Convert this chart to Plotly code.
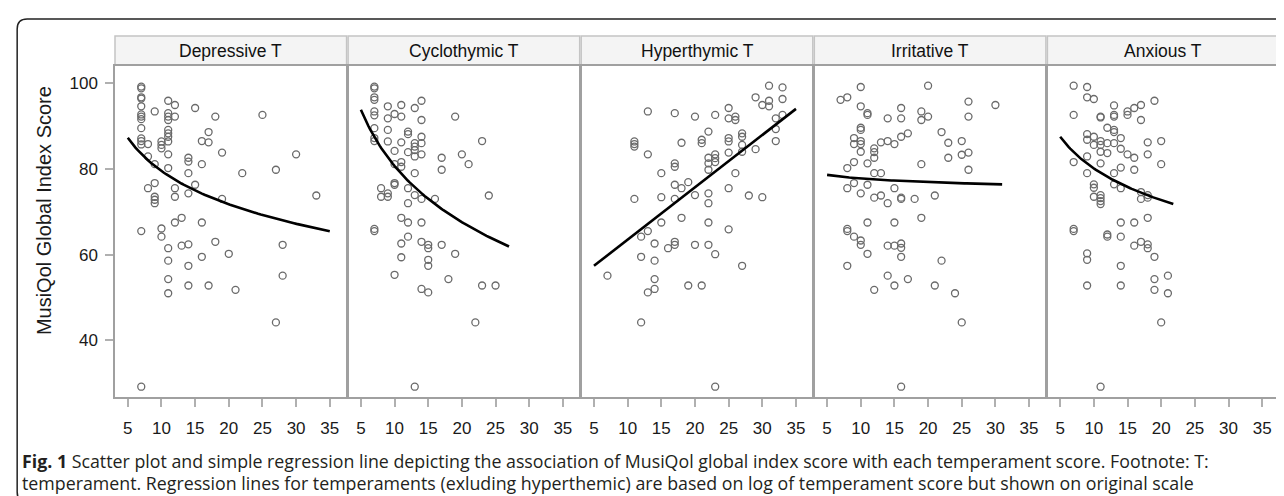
import numpy as np
import plotly.graph_objects as go

# ---------------- data ----------------
panel_titles = ["Depressive T", "Cyclothymic T", "Hyperthymic T", "Irritative T", "Anxious T"]

dep_x = [7,7,7,7,7,7,7,7,7,7,7,7,7,7,
         8,8,8, 9,9,9,9,9,9, 10,10,10,10,10,
         11,11,11,11,11,11,11,11,11,11,11,11,11,11,
         12,12,12,12,12, 13,13, 14,14,14,14,14,14,14, 15,15,
         16,16,16,16, 17,17,17, 18,18, 19,19, 20, 21, 22, 25, 27,27, 28,28, 30, 33]
dep_y = [99.2,98.8,96.7,96.4,94.6,92.7,92.2,91.6,89.5,87.1,86.5,85.7,65.5,29.2,
         85.8,82.9,75.5, 93.4,81.1,76.7,73.5,72.8,72.0, 86.4,85.6,84.8,66.1,64.2,
         95.9,93.0,92.2,91.4,89.1,88.3,87.5,86.4,83.4,80.2,61.5,58.6,54.3,51.0,
         94.9,92.2,75.5,73.5,67.5, 68.6,62.1, 82.6,81.7,79.0,74.3,62.4,57.4,52.8, 94.2,76.3,
         86.5,81.1,67.5,59.5, 88.6,86.2,52.8, 92.2,63.0, 83.8,73.0, 60.2, 51.8, 79.0, 92.6, 79.8,44.2, 62.3,55.1, 83.4, 73.8]

cyc_x = [7,7,7,7,7,7,7,7,7,7,7, 8,8, 9,9,9,9,9,9, 10,10,10,10,10,10,
         11,11,11,11,11,11,11,11, 12,12,12,12,12,12,12,
         13,13,13,13,13,13,13,13, 14,14,14,14,14,14,14,14,14,
         15,15,15,15,15, 16, 17,17,17, 18, 19,19, 20, 21, 22, 23,23, 24, 25]
cyc_y = [99.2,98.8,96.7,96.1,93.4,92.5,89.5,87.2,86.5,66.0,65.5, 75.5,73.5,
         94.6,91.8,89.1,86.4,74.3,73.5, 92.8,84.2,81.1,76.7,76.3,55.3,
         94.9,92.2,86.2,81.6,80.5,68.6,62.6,59.4, 88.7,88.1,83.9,75.5,72.0,67.5,64.2,
         94.2,86.0,85.2,84.4,82.9,79.0,73.9,29.2, 95.9,91.4,87.5,86.0,83.4,73.0,67.5,63.0,52.0,
         62.3,61.5,58.8,57.4,51.2, 73.0, 82.6,79.8,62.3, 54.3, 92.2,60.2, 83.4, 81.1, 44.2, 86.5,52.8, 73.8, 52.8]

hyp_x = [7, 11,11,11,11, 12,12,12, 13,13,13,13, 14,14,14,14, 15,15,15, 16,
         17,17,17,17,17,17,17, 18,18,18, 19,19, 20,20,20, 21,21,21,
         22,22,22,22,22,22,22,22, 23,23,23,23,23,23, 25,25,25,25,25,25,25,
         26,26,26, 27,27,27,27,27, 28, 29,29, 30,30, 31,31,31, 32,32,32, 33,33,33]
hyp_y = [55.1, 86.4,85.8,85.2,73.0, 64.2,59.5,44.2, 93.4,83.4,65.5,51.2, 62.6,58.6,54.3,52.0,
         79.0,73.4,67.5, 61.5,
         93.0,81.3,80.5,76.3,73.0,63.0,62.3, 86.1,75.5,68.6, 76.9,52.8, 92.2,73.9,62.3, 86.8,86.0,52.8,
         88.7,82.6,81.3,79.8,74.3,72.0,67.5,62.3, 92.6,83.4,82.5,81.6,60.1,29.2,
         94.2,91.8,87.2,86.4,83.8,75.5,65.9, 92.2,91.4,79.0, 88.3,87.5,85.6,84.0,57.4, 73.8,
         96.7,84.6, 94.9,73.4, 99.4,95.9,94.6, 91.8,89.3,86.5, 99.0,96.3,92.6]

irr_x = [7, 8,8,8,8,8,8, 9,9,9,9,9, 10,10,10,10,10,10,10,10,10,10,
         11,11,11,11,11,11, 12,12,12,12,12,12, 13,13,13, 14,14,14,14,14,
         15,15,15,15,15, 16,16,16,16,16,16,16,16,16, 17,17, 18, 19,19,19,19,
         20,20, 21,21, 22,22, 23,23, 24, 25,25,25, 26,26,26,26, 30]
irr_y = [96.1, 96.7,80.2,75.5,66.0,65.5,57.4, 87.2,85.8,81.6,76.7,64.2,
         99.1,94.6,89.6,89.1,86.5,85.8,84.0,74.3,63.3,62.3,
         93.0,92.6,81.3,76.3,67.5,60.2, 84.8,83.9,82.6,79.0,73.3,51.8, 86.2,79.0,73.8,
         91.8,86.5,72.0,62.1,55.1, 85.8,75.5,67.5,62.1,52.8,
         94.2,91.8,87.5,73.3,73.0,62.6,61.6,59.5,29.2, 88.3,54.3, 73.0, 93.4,91.4,81.1,68.6,
         99.4,92.2, 73.8,52.8, 88.6,58.6, 86.1,82.6, 51.0, 86.5,83.3,44.2, 95.7,92.2,83.8,79.8, 94.9]

anx_x = [7,7,7,7,7, 9,9,9,9,9,9,9,9,9, 10,10,10,10,10,10,
         11,11,11,11,11,11,11,11,11,11,11, 12,12,12,12,12,
         13,13,13,13,13,13,13,13, 14,14,14,14,14,14,14,14, 15,15,15,
         16,16,16,16,16, 17,17,17,17,17, 18,18,18,18,18,18,18,
         19,19,19,19, 20,20,20, 21,21]
anx_y = [99.4,92.6,81.6,66.0,65.5, 99.1,96.7,88.1,86.8,82.9,79.0,60.3,58.8,52.8,
         96.3,87.5,85.6,76.4,75.6,73.5,
         92.2,92.0,86.5,85.6,84.0,81.3,73.9,73.2,72.5,71.8,29.2, 89.6,86.0,83.7,64.7,64.2,
         94.8,92.6,92.2,89.1,88.6,86.0,79.0,76.4, 87.2,84.7,80.3,75.5,67.5,64.2,57.4,52.8,
         93.4,92.6,83.4, 94.2,82.6,79.8,67.5,62.1, 94.9,91.4,74.6,73.0,63.0,
         86.2,83.4,73.9,73.3,68.6,62.4,61.5, 95.9,59.5,54.3,51.8, 86.5,81.1,44.2, 55.1,51.0]

# regression lines: (model, intercept, slope, x_start, x_end)
dep_fit = ("log", 105.3, -11.2, 5, 35)
cyc_fit = ("log", 124.25, -18.92, 5, 27)
hyp_fit = ("linear", 51.3, 1.22, 5, 35)
irr_fit = ("log", 80.55, -1.21, 5, 31)
anx_fit = ("log", 104.65, -10.66, 5, 21.8)

x_ticks = [5, 10, 15, 20, 25, 30, 35]
y_ticks = [40, 60, 80, 100]

caption_1 = ("<b>Fig. 1</b> Scatter plot and simple regression line depicting the association of MusiQol "
             "global index score with each temperament score. Footnote: T:")
caption_2 = ("temperament. Regression lines for temperaments (exluding hyperthemic) are based on log of "
             "temperament score but shown on original scale")
y_title = "MusiQol Global Index Score"

# ---------------- figure ----------------
W, H = 1284, 496
ML, MR, MT, MB = 107, 11, 58, 107
PW = W - ML - MR
PH = H - MT - MB

def px_x(p):
    return (p - ML) / PW

def px_y(p):
    return (H - MB - p) / PH

panels = [(dep_x, dep_y, dep_fit), (cyc_x, cyc_y, cyc_fit), (hyp_x, hyp_y, hyp_fit),
          (irr_x, irr_y, irr_fit), (anx_x, anx_y, anx_fit)]

fig = go.Figure()
panel_w = 232
step = 233.5
shapes = []
annotations = []
for i, (xs, ys, fit) in enumerate(panels):
    ax = "" if i == 0 else str(i + 1)
    fig.add_trace(go.Scatter(
        x=xs, y=ys, mode="markers", xaxis="x" + ax, yaxis="y" + ax,
        marker=dict(symbol="circle-open", size=7, color="#6a6a6a", line=dict(width=1.3, color="#6a6a6a")),
        showlegend=False, hoverinfo="x+y"))
    model, a, b, x0, x1 = fit
    lx = np.linspace(x0, x1, 80)
    ly = a + b * (np.log(lx) if model == "log" else lx)
    fig.add_trace(go.Scatter(
        x=lx, y=ly, mode="lines", xaxis="x" + ax, yaxis="y" + ax,
        line=dict(color="black", width=2.6), showlegend=False, hoverinfo="skip"))
    d0 = px_x(ML + i * step)
    d1 = px_x(ML + i * step + panel_w)
    axis_common = dict(showline=True, mirror=True, linecolor="#a0a0a0", linewidth=1.5,
                       showgrid=False, zeroline=False)
    fig.layout["xaxis" + ax] = dict(
        domain=[d0, d1], range=[3.1, 37.5], tickvals=x_ticks, ticks="outside", ticklen=8,
        tickcolor="#b0b0b0", tickwidth=1.5, ticklabelstandoff=7,
        tickfont=dict(family="Liberation Sans, Arial", size=17, color="#1a1a1a"),
        anchor="y" + ax, **axis_common)
    yopts = dict(domain=[0, 1], range=[26.8, 104.0], tickvals=y_ticks, anchor="x" + ax, **axis_common)
    if i == 0:
        yopts.update(ticks="outside", ticklen=8, tickcolor="#b0b0b0", tickwidth=1.5,
                     ticklabelstandoff=4,
                     tickfont=dict(family="Liberation Sans, Arial", size=17, color="#1a1a1a"))
    else:
        yopts.update(showticklabels=False, ticks="")
    fig.layout["yaxis" + ax] = yopts
    # strip header
    shapes.append(dict(type="rect", xref="paper", yref="paper", x0=d0, x1=d1,
                       y0=px_y(57), y1=px_y(28), fillcolor="#f4f4f4",
                       line=dict(color="#c4c4c4", width=1.5), layer="below"))
    annotations.append(dict(xref="paper", yref="paper", x=(d0 + d1) / 2, y=px_y(43),
                            text=panel_titles[i], showarrow=False, xanchor="center", yanchor="middle",
                            font=dict(family="Liberation Sans, Arial", size=17.5, color="#111")))

# outer rounded box
bx0, bx1, by0, by1, r = px_x(9), px_x(1283), px_y(494), px_y(11), 10
rx, ry = r / PW, r / PH
path = (f"M {bx0+rx},{by1} L {bx1-rx},{by1} Q {bx1},{by1} {bx1},{by1-ry} "
        f"L {bx1},{by0+ry} Q {bx1},{by0} {bx1-rx},{by0} L {bx0+rx},{by0} "
        f"Q {bx0},{by0} {bx0},{by0+ry} L {bx0},{by1-ry} Q {bx0},{by1} {bx0+rx},{by1} Z")
shapes.append(dict(type="path", xref="paper", yref="paper", path=path,
                   line=dict(color="#222", width=1.5)))

annotations.append(dict(xref="paper", yref="paper", x=px_x(36), y=px_y(203), text=y_title,
                        textangle=-90, showarrow=False, xanchor="center", yanchor="middle",
                        font=dict(family="Liberation Sans, Arial", size=20, color="#1a1a1a")))
annotations.append(dict(xref="paper", yref="paper", x=px_x(12), y=px_y(453), text=caption_1,
                        showarrow=False, xanchor="left", yanchor="middle",
                        font=dict(family="Open Sans", size=17.8, color="#231f20")))
annotations.append(dict(xref="paper", yref="paper", x=px_x(12), y=px_y(475), text=caption_2,
                        showarrow=False, xanchor="left", yanchor="middle",
                        font=dict(family="Open Sans", size=17.8, color="#231f20")))

fig.update_layout(width=W, height=H, margin=dict(l=ML, r=MR, t=MT, b=MB),
                  paper_bgcolor="white", plot_bgcolor="white",
                  shapes=shapes, annotations=annotations, showlegend=False)

fig.write_html("out.html")
